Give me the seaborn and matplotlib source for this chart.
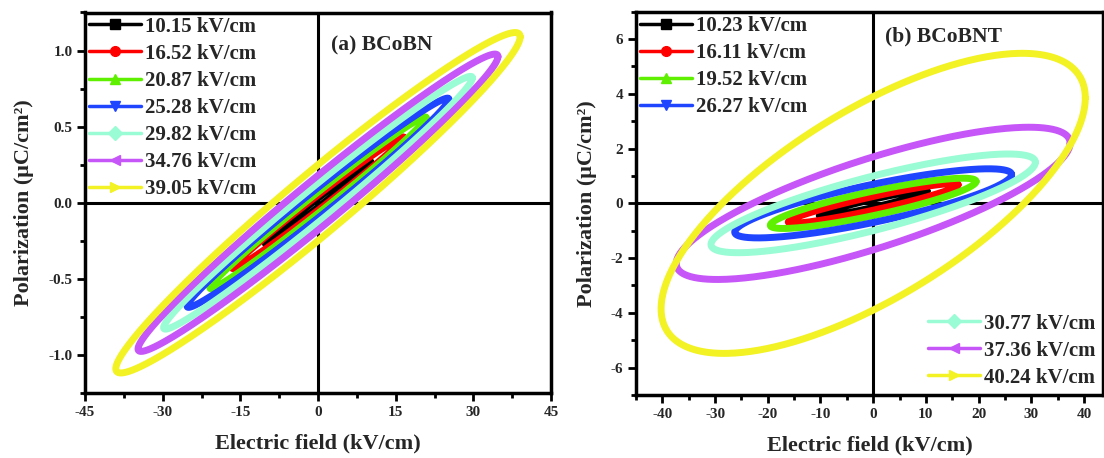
import numpy as np
import pandas as pd
import matplotlib
matplotlib.use("Agg")
import matplotlib.pyplot as plt
from matplotlib.lines import Line2D
from matplotlib.ticker import MultipleLocator, FormatStrFormatter
import seaborn as sns

# ---------------- data ----------------
labels_a = ["10.15 kV/cm", "16.52 kV/cm", "20.87 kV/cm", "25.28 kV/cm",
            "29.82 kV/cm", "34.76 kV/cm", "39.05 kV/cm"]
emax_a = [10.15, 16.52, 20.87, 25.28, 29.82, 34.76, 39.05]      # field amplitude
ptip_a = [0.27, 0.43, 0.56, 0.68, 0.82, 0.96, 1.09]             # P at E = Emax
pr_a = [0.03, 0.05, 0.07, 0.10, 0.13, 0.18, 0.25]               # P at E = 0

labels_b = ["10.23 kV/cm", "16.11 kV/cm", "19.52 kV/cm", "26.27 kV/cm",
            "30.77 kV/cm", "37.36 kV/cm", "40.24 kV/cm"]
emax_b = [10.23, 16.11, 19.52, 26.27, 30.77, 37.36, 40.24]
ptip_b = [0.45, 0.68, 0.80, 1.05, 1.50, 2.20, 3.85]
pr_b = [0.15, 0.25, 0.45, 0.70, 1.00, 1.70, 3.90]

colors = ["#000000", "#ff0000", "#5ef000", "#1f45ff", "#99fcd4", "#c656f7", "#f2f224"]
markers = ["s", "o", "^", "v", "D", "<", ">"]

# ---------------- style ----------------
sns.set_theme(style="white")
plt.rcParams["font.family"] = ["Liberation Serif", "DejaVu Serif"]
plt.rcParams["font.weight"] = "bold"
plt.rcParams["axes.labelweight"] = "bold"
plt.rcParams["axes.unicode_minus"] = False

LEG_PROP = {"family": "Liberation Serif", "weight": "bold", "size": 15}
LEG_KW = dict(frameon=False, numpoints=1, handlelength=2.5, handletextpad=0.2,
              labelspacing=0.34, borderpad=0.1, prop=LEG_PROP)


def loop_frame(labels, emax, ptip, pr):
    rows = []
    t = np.linspace(0, 2 * np.pi, 400)
    for lab, em, pm, r in zip(labels, emax, ptip, pr):
        rows.append(pd.DataFrame({"E": em * np.cos(t),
                                  "P": pm * np.cos(t) + r * np.sin(t),
                                  "loop": lab}))
    return pd.concat(rows, ignore_index=True)


fig = plt.figure(figsize=(11.04, 4.58), dpi=100)
W, H = 1104, 458
ax1 = fig.add_axes([85 / W, 1 - 393 / H, (551 - 85) / W, (393 - 12.5) / H])
ax2 = fig.add_axes([636 / W, 1 - 395 / H, (1103 - 636) / W, (395 - 11.7) / H])


def style_axis(ax, xlim, ylim, xmaj, xmin, ymaj, ymin):
    ax.set_xlim(*xlim)
    ax.set_ylim(*ylim)
    ax.axhline(0, color="black", lw=2.2, zorder=1)
    ax.axvline(0, color="black", lw=2.2, zorder=1)
    for s in ax.spines.values():
        s.set_linewidth(2.5)
        s.set_color("black")
        s.set_visible(True)
    ax.xaxis.set_major_locator(MultipleLocator(xmaj))
    ax.xaxis.set_minor_locator(MultipleLocator(xmin))
    ax.yaxis.set_major_locator(MultipleLocator(ymaj))
    ax.yaxis.set_minor_locator(MultipleLocator(ymin))
    ax.tick_params(which="both", direction="out", bottom=True, left=True,
                   top=False, right=False, width=2, color="black")
    ax.tick_params(which="major", length=6, labelsize=11, pad=3)
    ax.tick_params(which="minor", length=3.5)
    for lab in ax.get_xticklabels() + ax.get_yticklabels():
        lab.set_fontweight("bold")
    ax.set_xlabel("Electric field (kV/cm)", fontsize=16, fontweight="bold", labelpad=11)
    ax.set_ylabel("Polarization (μC/cm²)", fontsize=16, fontweight="bold", labelpad=10)


def draw(ax, labels, emax, ptip, pr):
    df = loop_frame(labels, emax, ptip, pr)
    for lab, col in zip(labels, colors):
        sub = df[df["loop"] == lab]
        sns.lineplot(data=sub, x="E", y="P", sort=False, estimator=None,
                     color=col, lw=5.0, ax=ax, legend=False, zorder=3)


def handles(labels, idx):
    return [Line2D([], [], color=colors[i], marker=markers[i], lw=2.5, ms=7,
                   label=labels[i]) for i in idx]


draw(ax1, labels_a, emax_a, ptip_a, pr_a)
style_axis(ax1, (-45, 45), (-1.25, 1.25), 15, 7.5, 0.5, 0.25)
ax1.yaxis.set_major_formatter(FormatStrFormatter("%.1f"))
ax1.legend(handles=handles(labels_a, range(7)), loc="upper left",
           bbox_to_anchor=(0.0, 1.0), borderaxespad=0.1, **LEG_KW)
ax1.text(2.5, 1.03, "(a) BCoBN", fontsize=15.5, fontweight="bold", va="center", ha="left")

draw(ax2, labels_b, emax_b, ptip_b, pr_b)
style_axis(ax2, (-45, 43.6), (-7, 7), 10, 5, 2, 1)
leg1 = ax2.legend(handles=handles(labels_b, range(4)), loc="upper left",
                  bbox_to_anchor=(0.0, 1.0), borderaxespad=0.1, **LEG_KW)
ax2.add_artist(leg1)
ax2.legend(handles=handles(labels_b, range(4, 7)), loc="lower right",
           bbox_to_anchor=(1.0, 0.0), borderaxespad=0.25, **LEG_KW)
ax2.text(2.3, 6.1, "(b) BCoBNT", fontsize=15.5, fontweight="bold", va="center", ha="left")

fig.savefig("out.png", dpi=100, facecolor="white")
